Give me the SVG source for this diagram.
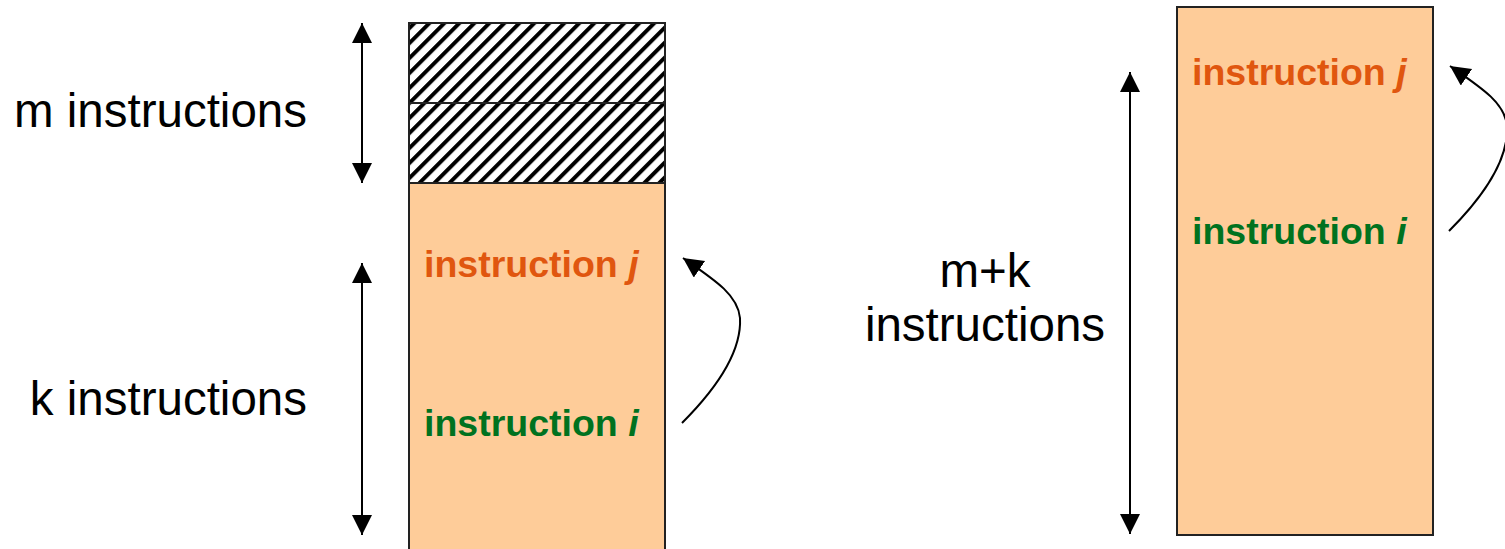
<svg xmlns="http://www.w3.org/2000/svg" width="1505" height="549" viewBox="0 0 1505 549">
<style>
.lbl{font-family:"Liberation Sans",Arial,sans-serif;font-size:47.5px;fill:#000}
.ins{font-family:"Liberation Sans",Arial,sans-serif;font-size:37.5px;font-weight:bold}
.j{fill:#E0560F}
.i{fill:#00721F}
.box{fill:#FECC99;stroke:#222;stroke-width:2}
.hatch{fill:url(#hatch);stroke:#222;stroke-width:2}
.conn{fill:none;stroke:#000;stroke-width:2}
</style>
<defs>
<pattern id="hatch" patternUnits="userSpaceOnUse" width="10.6" height="10.6" patternTransform="rotate(45)">
<rect width="10.6" height="10.6" fill="#fff"/>
<rect x="0" y="0" width="4" height="10.6" fill="#000"/>
</pattern>
<marker id="ah" markerUnits="userSpaceOnUse" markerWidth="22" markerHeight="22" refX="20" refY="10" orient="auto" viewBox="0 0 22 22">
<path d="M0,0 L20,10 L0,20 z" fill="#000"/>
</marker>
</defs>

<g id="left-stack">
<rect class="hatch" x="409" y="23" width="256" height="80"/>
<rect class="hatch" x="409" y="103" width="256" height="80"/>
<rect class="box" x="409" y="183" width="256" height="380"/>
<text class="ins j" x="424" y="277">instruction <tspan font-style="italic">j</tspan></text>
<text class="ins i" x="424" y="436">instruction <tspan font-style="italic">i</tspan></text>
</g>

<g id="left-labels">
<text class="lbl" x="307" y="127" text-anchor="end">m instructions</text>
<text class="lbl" x="307" y="415" text-anchor="end">k instructions</text>
</g>

<g id="right-stack">
<rect class="box" x="1177" y="7" width="256" height="528"/>
<text class="ins j" x="1192" y="85">instruction <tspan font-style="italic">j</tspan></text>
<text class="ins i" x="1192" y="244">instruction <tspan font-style="italic">i</tspan></text>
</g>

<g id="right-label">
<text class="lbl" x="985" y="287" text-anchor="middle">m+k</text>
<text class="lbl" x="985" y="341" text-anchor="middle">instructions</text>
</g>

<g id="connectors">
<line class="conn" x1="362" y1="103" x2="362" y2="23" marker-end="url(#ah)"/>
<line class="conn" x1="362" y1="103" x2="362" y2="183" marker-end="url(#ah)"/>
<line class="conn" x1="362" y1="400" x2="362" y2="263" marker-end="url(#ah)"/>
<line class="conn" x1="362" y1="400" x2="362" y2="535" marker-end="url(#ah)"/>
<line class="conn" x1="1130" y1="300" x2="1130" y2="72" marker-end="url(#ah)"/>
<line class="conn" x1="1130" y1="300" x2="1130" y2="534" marker-end="url(#ah)"/>
<path class="conn" d="M682,423 C710,395 742,355 740,318 C738,295 715,280 683,258" marker-end="url(#ah)"/>
<path class="conn" d="M1449,231 C1477,203 1509,163 1507,126 C1505,103 1482,88 1450,66" marker-end="url(#ah)"/>
</g>
</svg>
